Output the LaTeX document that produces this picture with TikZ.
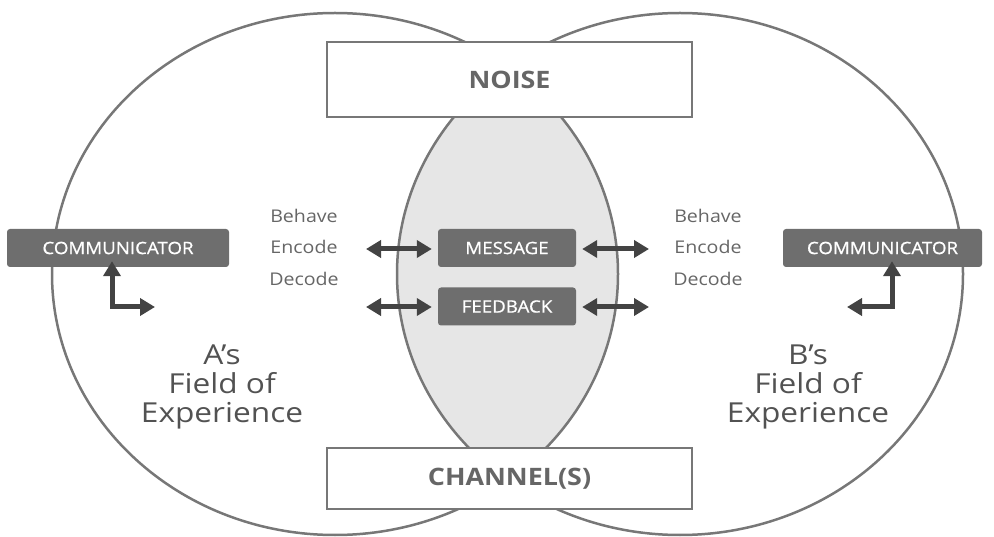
\documentclass[tikz,border=0pt]{standalone}
\usepackage{fontspec}
\setmainfont{Open Sans}[FakeStretch=1.12]
\newfontfamily\fieldfont{Open Sans}[FakeStretch=1.15]
\newfontfamily\boxfont{Open Sans}[FakeStretch=1.1, FakeBold=0.8]
\usetikzlibrary{arrows.meta}

\definecolor{rimgray}{HTML}{777777}
\definecolor{lensgray}{HTML}{E6E6E6}
\definecolor{boxgray}{HTML}{6E6E6E}
\definecolor{arrowgray}{HTML}{434343}
\definecolor{textgray}{HTML}{666666}

\tikzset{
  darkbox/.style={fill=boxgray, rounded corners=3pt, text=white, inner sep=0pt,
    minimum height=38pt, font=\boxfont\fontsize{17}{20}\selectfont},
  framebox/.style={draw=rimgray, line width=2pt, fill=white, inner sep=0pt,
    minimum width=365pt, text=textgray, font=\fontsize{24}{28}\selectfont\bfseries},
  codes/.style={align=center, text=textgray, font=\fontsize{17.5}{31.5}\selectfont},
  field/.style={align=center, text=black!68, font=\fieldfont\fontsize{27.5}{29}\selectfont},
  dblarrow/.style={draw=arrowgray, line width=5pt,
    {Triangle[length=15pt,width=17pt]}-{Triangle[length=15pt,width=17pt]}},
  bendarrow/.style={dblarrow, line join=miter}
}

\begin{document}
\begin{tikzpicture}[x=1pt,y=-1pt]
    \useasboundingbox (0,0) rectangle (994,537);
    % Shared part of both fields
    \begin{scope}
        \clip (335,274) ellipse [x radius=283pt, y radius=261pt];
        \fill[lensgray] (680,274) ellipse [x radius=283pt, y radius=261pt];
    \end{scope}
    % Draw both fields of experience
    \draw[rimgray, line width=2.5pt] (335,274) ellipse [x radius=283pt, y radius=261pt];
    \draw[rimgray, line width=2.5pt] (680,274) ellipse [x radius=283pt, y radius=261pt];

    % Top and bottom frames
    \node[framebox, minimum height=75pt] (noise) at (509.5,79.5) {NOISE};
    \node[framebox, minimum height=61pt] (channel) at (509.5,478.5) {CHANNEL(S)};

    % Communicators
    \node[darkbox, minimum width=222pt] (commA) at (118,248) {COMMUNICATOR};
    \node[darkbox, minimum width=199pt] (commB) at (882.5,248) {COMMUNICATOR};

    % Message and feedback
    \node[darkbox, minimum width=138pt] (message) at (507,248) {MESSAGE};
    \node[darkbox, minimum width=138pt] (feedback) at (507,306.5) {FEEDBACK};

    % Behave / encode / decode
    \node[codes] (codesA) at (304,247) {Behave\\Encode\\Decode};
    \node[codes] (codesB) at (708,247) {Behave\\Encode\\Decode};

    % Field labels
    \node[field] (fieldA) at (222,387) {A’s\\Field of\\Experience};
    \node[field] (fieldB) at (808,387) {B’s\\Field of\\Experience};

    % Arrow ends
    \coordinate (msgA) at (366,249);
    \coordinate (fbA) at (366,307);
    \coordinate (msgB) at (649,249);
    \coordinate (fbB) at (649,307);
    \draw[dblarrow] (msgA) -- ([xshift=-6pt]message.west |- msgA);
    \draw[dblarrow] (fbA) -- ([xshift=-6pt]feedback.west |- fbA);
    \draw[dblarrow] ([xshift=6pt]message.east |- msgB) -- (msgB);
    \draw[dblarrow] ([xshift=6pt]feedback.east |- fbB) -- (fbB);

    % Turn arrows under the communicators
    \coordinate (turnA) at (155,307);
    \coordinate (turnB) at (847,307);
    \draw[bendarrow] (turnA) -| ([yshift=6pt]commA.south -| 112,0);
    \draw[bendarrow] (turnB) -| ([yshift=6pt]commB.south -| 892,0);
\end{tikzpicture}
\end{document}
